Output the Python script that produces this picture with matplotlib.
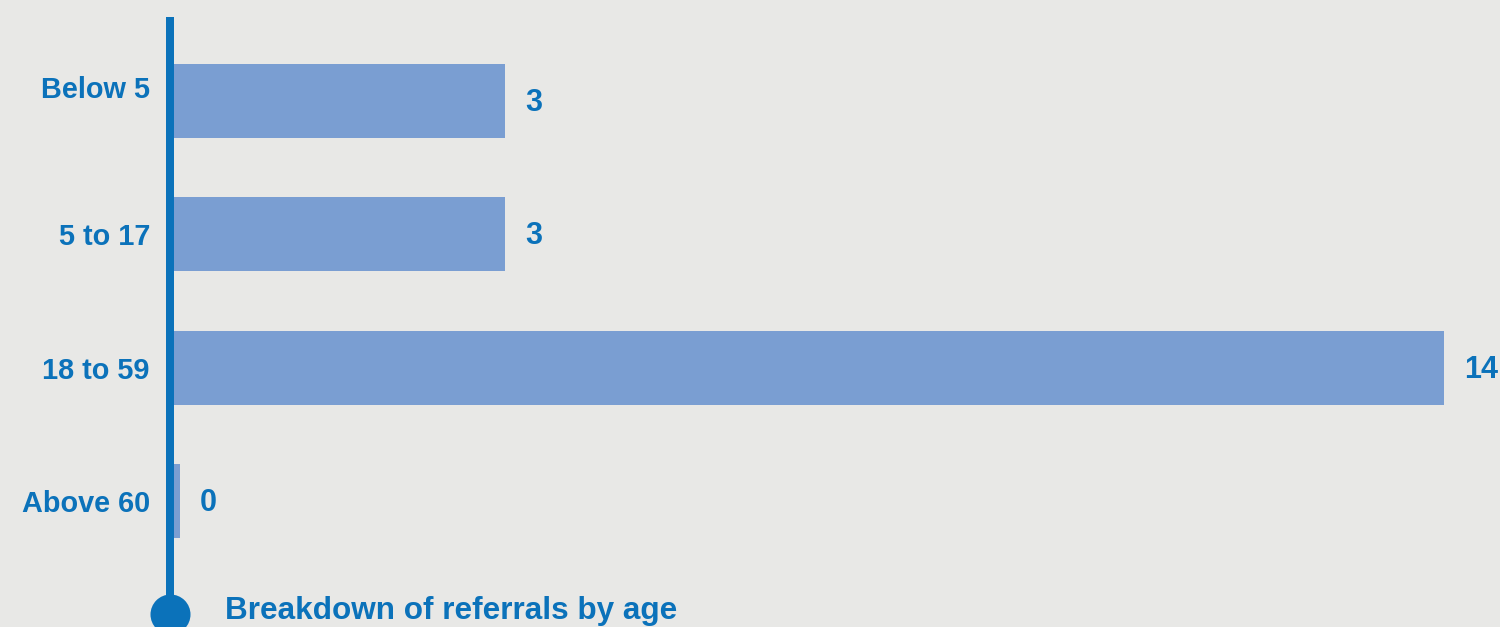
import numpy as np
import matplotlib
matplotlib.use("Agg")
import matplotlib.pyplot as plt
import matplotlib.transforms as mtransforms

# Data ...
categories = ["Below 5", "5 to 17", "18 to 59", "Above 60"]
referrals = [3, 3, 14, 0]
title = "Breakdown of referrals by age"

# Style ...
BG = "#E8E8E6"
BLUE = "#0B72BA"
BAR = "#7A9ED2"
SCALE_EXP = 0.8817            # compressive power scale used on the value axis
BASE = -0.0578                # bars start just left of zero so a zero still shows a stub
XMAX = 14.70

plt.rcParams["font.family"] = ["Liberation Sans", "DejaVu Sans"]
plt.rcParams["font.weight"] = "bold"

fg = plt.figure(figsize=(15.0, 6.27), dpi=100, facecolor=BG)
ax = fg.add_axes([170 / 1500, 13 / 627, 1330 / 1500, 597 / 627], facecolor=BG)


def fwd(x):
    x = np.asarray(x, dtype=float)
    return np.sign(x) * np.abs(x) ** SCALE_EXP


def inv(y):
    y = np.asarray(y, dtype=float)
    return np.sign(y) * np.abs(y) ** (1.0 / SCALE_EXP)


ax.set_xscale("function", functions=(fwd, inv))

ypos = np.arange(len(categories))
vals = np.array(referrals, dtype=float)

# Bars ...
ax.barh(ypos, vals - BASE, left=BASE, height=0.555, color=BAR, zorder=2)

# Value labels ...
for y, v in zip(ypos, referrals):
    ax.annotate(
        f"{v:d}",
        xy=(v, y),
        xytext=(14.5, -1.5),
        textcoords="offset points",
        ha="left",
        va="center",
        fontsize=22,
        fontweight="bold",
        color=BLUE,
        annotation_clip=False,
    )

ax.set_xlim(BASE, XMAX)
ax.set_ylim(len(categories) - 1 + 0.848, -0.63)

# Category labels ...
ax.set_yticks(ypos)
ax.set_yticklabels(categories, fontsize=20.8, fontweight="bold", color=BLUE)
ax.tick_params(axis="y", length=0, pad=14.4)
ax.set_xticks([])
ax.xaxis.set_minor_locator(matplotlib.ticker.NullLocator())
ax.tick_params(axis="x", which="both", length=0, labelbottom=False)

# first label sits a little higher in the reference
lbl = ax.get_yticklabels()[0]
lbl.set_transform(lbl.get_transform() + mtransforms.ScaledTranslation(0, 14 / 100, fg.dpi_scale_trans))

# Spines ...
for s in ["top", "right", "bottom"]:
    ax.spines[s].set_visible(False)
ax.spines["left"].set_color(BLUE)
ax.spines["left"].set_linewidth(5.76)
ax.spines["left"].set_capstyle("butt")
ax.spines["left"].set_zorder(3)

# Circle at the foot of the axis ...
ax.scatter([0], [0], s=830, color=BLUE, transform=ax.transAxes, clip_on=False, zorder=4, linewidths=0)

# Title ...
fg.text(225 / 1500, 8 / 627, title, ha="left", va="baseline", fontsize=22.7, fontweight="bold", color=BLUE)

fg.savefig("out.png", dpi=100, facecolor=BG)
plt.close(fg)
